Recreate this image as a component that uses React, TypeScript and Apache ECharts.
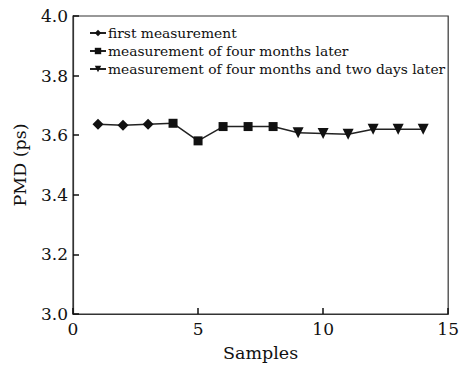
import React, { useEffect, useRef } from "react";
import * as echarts from "echarts";

const seriesNames = [
  "first measurement",
  "measurement of four months later",
  "measurement of four months and two days later",
];
const firstX = [1, 2, 3];
const firstY = [3.637, 3.633, 3.637];
const secondX = [4, 5, 6, 7, 8];
const secondY = [3.64, 3.581, 3.629, 3.629, 3.629];
const thirdX = [9, 10, 11, 12, 13, 14];
const thirdY = [3.608, 3.606, 3.603, 3.62, 3.62, 3.62];
const symbols = ["diamond", "rect", "triangle"];

const FONT = "DejaVu Serif";

export default function App() {
  const ref = useRef<HTMLDivElement>(null);
  useEffect(() => {
    if (!ref.current) return;
    const chart = echarts.init(ref.current, null, { renderer: "svg" });
    const mk = (xs: number[], ys: number[]) => xs.map((x, i) => [x, ys[i]]);
    const d1: any[] = mk(firstX, firstY);
    d1.push({ value: [secondX[0], secondY[0]], symbol: "none" });
    const d2: any[] = mk(secondX, secondY);
    d2.push({ value: [thirdX[0], thirdY[0]], symbol: "none" });
    const d3: any[] = mk(thirdX, thirdY);
    const datas = [d1, d2, d3];
    const sizes = [11, 9, 11];
    chart.setOption({
      animation: false,
      backgroundColor: "#fff",
      grid: {
        left: 73,
        right: 10,
        top: 16,
        bottom: 51,
        show: true,
        borderColor: "#333",
        borderWidth: 1.2,
      },
      legend: {
        orient: "vertical",
        left: 84,
        top: 21,
        itemWidth: 16,
        itemHeight: 8,
        itemGap: 4,
        textStyle: { fontFamily: FONT, fontSize: 13.8, color: "#111", padding: [0, 0, 0, -3] },
        data: seriesNames,
      },
      xAxis: {
        type: "value",
        min: 0,
        max: 15,
        interval: 5,
        name: "Samples",
        nameLocation: "middle",
        nameGap: 30,
        nameTextStyle: { fontFamily: FONT, fontSize: 17.5, color: "#111" },
        axisLine: { lineStyle: { color: "#333", width: 1.2 } },
        axisTick: { inside: true, length: 6, lineStyle: { color: "#111", width: 1.5 } },
        axisLabel: { fontFamily: FONT, fontSize: 17, color: "#111", margin: 6 },
        splitLine: { show: false },
      },
      yAxis: {
        type: "value",
        min: 3.0,
        max: 4.0,
        interval: 0.2,
        name: "PMD (ps)",
        nameLocation: "middle",
        nameGap: 44,
        nameTextStyle: { fontFamily: FONT, fontSize: 17.5, color: "#111" },
        axisLine: { lineStyle: { color: "#333", width: 1.2 } },
        axisTick: { inside: true, length: 6, lineStyle: { color: "#111", width: 1.5 } },
        axisLabel: {
          fontFamily: FONT,
          fontSize: 17,
          color: "#111",
          margin: 5,
          formatter: (v: number) => v.toFixed(1),
        },
        splitLine: { show: false },
      },
      series: seriesNames.map((n, i) => ({
        name: n,
        type: "line",
        data: datas[i],
        symbol: symbols[i],
        symbolRotate: symbols[i] === "triangle" ? 180 : 0,
        symbolSize: sizes[i],
        showAllSymbol: true,
        itemStyle: { color: "#111" },
        lineStyle: { color: "#222", width: 1.5 },
      })),
    });
    return () => chart.dispose();
  }, []);
  return (
    <div
      ref={ref}
      style={{ position: "absolute", left: 0, top: 0, width: 462, height: 367 }}
    />
  );
}
